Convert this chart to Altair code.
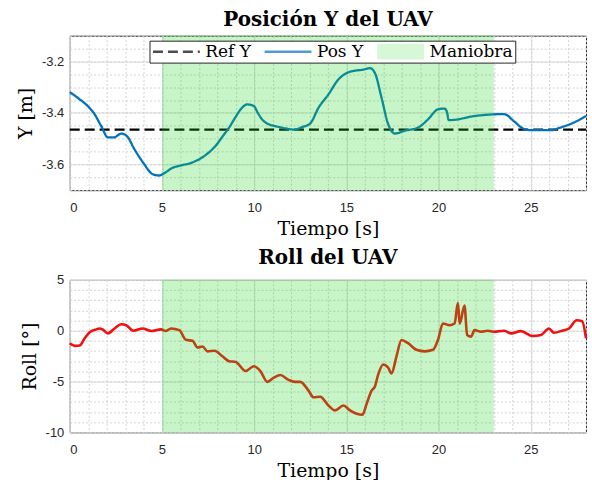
import altair as alt
import pandas as pd

# ---------------- data ----------------
pos_t = [0, 0.5, 1.0, 1.3, 1.7, 2.07, 2.4, 2.79, 3.1, 3.5, 4.0, 4.5, 4.86, 5.1, 5.58,
         6.1, 6.66, 7.2, 7.6, 7.92, 8.3, 8.64, 9.0, 9.27, 9.63, 9.98, 10.2, 10.43, 10.79,
         11.2, 11.7, 12.2, 12.6, 13.04, 13.49, 14.03, 14.57, 15.02, 15.47, 15.92, 16.28,
         16.55, 16.91, 17.27, 17.63, 18.17, 18.89, 19.43, 19.97, 20.33, 20.47, 20.55,
         21.05, 21.77, 22.49, 23.2, 23.57, 24.1, 24.65, 25.0, 26.09, 26.6, 27.35, 28.0]
pos_y = [-3.319, -3.345, -3.375, -3.400, -3.450, -3.495, -3.495, -3.480, -3.490, -3.540,
         -3.595, -3.638, -3.643, -3.635, -3.613, -3.603, -3.592, -3.572, -3.550, -3.527,
         -3.490, -3.457, -3.415, -3.386, -3.367, -3.373, -3.400, -3.425, -3.444, -3.452,
         -3.460, -3.465, -3.455, -3.441, -3.380, -3.328, -3.270, -3.245, -3.236, -3.232,
         -3.226, -3.245, -3.341, -3.444, -3.480, -3.469, -3.457, -3.425, -3.386, -3.383,
         -3.400, -3.428, -3.425, -3.414, -3.408, -3.405, -3.405, -3.433, -3.463, -3.467,
         -3.467, -3.457, -3.437, -3.412]
ref_t = [0, 28]
ref_y = [-3.465, -3.465]

roll_t = [0, 0.27, 0.54, 0.81, 1.08, 1.44, 1.62, 1.8, 2.07, 2.43, 2.79, 3.06, 3.45, 3.96,
          4.41, 4.95, 5.2, 5.49, 5.94, 6.3, 6.66, 6.93, 7.2, 7.47, 7.85, 8.28, 8.64, 9.0,
          9.54, 9.98, 10.34, 10.71, 11.07, 11.42, 11.87, 12.2, 12.5, 12.95, 13.22, 13.58,
          14.03, 14.39, 14.84, 15.2, 15.56, 15.87, 16.1, 16.37, 16.55, 16.73, 17.0, 17.27,
          17.45, 17.72, 17.99, 18.35, 18.8, 19.25, 19.7, 19.97, 20.24, 20.6, 20.87, 21.05,
          21.15, 21.41, 21.55, 21.77, 21.95, 22.3, 22.67, 23.0, 23.57, 23.93, 24.47, 25.1,
          25.56, 25.99, 26.26, 26.71, 27.08, 27.49, 27.79, 28.0]
roll_v = [-1.23, -1.49, -1.45, -0.75, -0.16, 0.13, 0.22, 0.10, -0.26, 0.22, 0.64, 0.54,
          0.00, 0.22, -0.03, 0.13, -0.03, 0.22, 0.06, -0.90, -1.00, -1.65, -1.55, -2.03,
          -1.97, -2.52, -3.00, -3.07, -3.97, -3.49, -3.97, -5.03, -4.62, -4.36, -4.84,
          -5.03, -5.03, -5.90, -6.55, -6.49, -7.36, -7.84, -7.36, -7.84, -8.17, -8.27,
          -7.20, -5.90, -5.49, -4.30, -3.33, -3.65, -4.20, -2.52, -0.91, -1.23, -1.88,
          -2.03, -1.88, -0.91, 0.71, 0.54, 0.71, 2.71, 0.70, 2.48, -0.42, -0.58, 0.06,
          -0.10, 0.00, -0.10, 0.00, -0.26, -0.04, -0.52, -0.42, 0.22, -0.20, 0.00, 0.22,
          1.03, 0.93, -0.75]

man_start = [5]
man_end = [23]
series = ["Ref Y", "Pos Y", "Maniobra"]

x_ticks = [0, 5, 10, 15, 20, 25]
x_minor = list(range(0, 29))
y1_ticks = [-3.6, -3.4, -3.2]
y1_minor = [round(-3.7 + 0.05 * i, 2) for i in range(13)]
y2_ticks = [-10, -5, 0, 5]
y2_minor = list(range(-10, 6))

# ---------------- frames ----------------
lines_df = pd.DataFrame({
    "t": ref_t + pos_t,
    "v": ref_y + pos_y,
    "serie": ["Ref Y"] * len(ref_t) + ["Pos Y"] * len(pos_t),
})
man_df = pd.DataFrame({"t0": man_start, "t1": man_end, "serie": ["Maniobra"]})
roll_df = pd.DataFrame({"t": roll_t, "v": roll_v})

W = 518
H1 = 155
H2 = 153
GREEN = "rgba(30,215,30,0.25)"
BLUE = "#0072BD"
RED = "#f01010"

xs = alt.Scale(domain=[0, 28], nice=False, zero=False)
ys1 = alt.Scale(domain=[-3.7, -3.1], nice=False, zero=False)
ys2 = alt.Scale(domain=[-10, 5], nice=False, zero=False)

lab = "'' + datum.value"
x_axis = alt.Axis(orient="bottom", values=x_ticks, title="Tiempo [s]", labelExpr=lab,
                  grid=True, domain=False, ticks=False, labelPadding=11, titlePadding=5,
                  titleFontWeight="normal", titleFont="DejaVu Serif", titleFontSize=19)
x_axis_minor = alt.Axis(orient="top", values=x_minor, grid=True, gridDash=[2, 2],
                        gridColor="#d2d2d2", labels=False, ticks=False, domain=False, title=None)


def y_axis(vals, title):
    return alt.Axis(orient="left", values=vals, title=title, labelExpr=lab, grid=True,
                    domain=False, ticks=False, labelPadding=6, titlePadding=6,
                    titleFontWeight="normal", titleFont="DejaVu Serif", titleFontSize=19)


def y_axis_minor(vals):
    return alt.Axis(orient="right", values=vals, grid=True, gridDash=[2, 2],
                    gridColor="#d2d2d2", labels=False, ticks=False, domain=False, title=None)


legend = alt.Legend(title=None, orient="none", legendX=80, legendY=5,
                    direction="horizontal", columns=3,
                    labelFont="DejaVu Serif", labelFontSize=17, labelColor="black",
                    symbolSize=2209, symbolStrokeWidth=2.5, clipHeight=18,
                    labelOffset=4, columnPadding=12, padding=2, symbolOffset=0,
                    strokeColor="#262626", fillColor="white", labelLimit=0)

stroke_scale = alt.Scale(domain=series, range=["#000000", BLUE, "rgba(0,0,0,0)"])
dash_scale = alt.Scale(domain=series, range=[[10, 5], [1, 0], [1, 0]])
fill_scale = alt.Scale(domain=series, range=["rgba(0,0,0,0)", "rgba(0,0,0,0)", GREEN])
shape_scale = alt.Scale(domain=series, range=["stroke", "stroke", "M-1,-0.34H1V0.34H-1Z"])

top_lines = alt.Chart(lines_df).mark_line(strokeWidth=2.3, interpolate="monotone").encode(
    x=alt.X("t:Q", scale=xs, axis=x_axis),
    y=alt.Y("v:Q", scale=ys1, axis=y_axis(y1_ticks, "Y [m]")),
    stroke=alt.Stroke("serie:N", scale=stroke_scale, legend=legend),
    strokeDash=alt.StrokeDash("serie:N", scale=dash_scale, legend=legend),
)
top_rect = alt.Chart(man_df).mark_rect().encode(
    x=alt.X("t0:Q", scale=xs, axis=x_axis_minor),
    x2="t1:Q",
    fill=alt.Fill("serie:N", scale=fill_scale, legend=legend),
)
top_pts = alt.Chart(lines_df).mark_point().encode(
    x=alt.X("t:Q", scale=xs, axis=None),
    y=alt.Y("v:Q", scale=ys1, axis=y_axis_minor(y1_minor)),
    shape=alt.Shape("serie:N", scale=shape_scale, legend=legend),
).transform_filter("false")

top = alt.layer(top_lines, top_rect, top_pts).properties(
    width=W, height=H1,
    title=alt.TitleParams("Posición Y del UAV", font="DejaVu Serif", fontSize=20,
                          fontWeight="bold", color="black", anchor="middle", offset=6),
)

bot_line = alt.Chart(roll_df).mark_line(strokeWidth=2.6, interpolate="monotone", color=RED).encode(
    x=alt.X("t:Q", scale=xs, axis=x_axis),
    y=alt.Y("v:Q", scale=ys2, axis=y_axis(y2_ticks, "Roll [°]")),
)
bot_rect = alt.Chart(man_df).mark_rect(fill=GREEN).encode(
    x=alt.X("t0:Q", scale=xs, axis=x_axis_minor),
    x2="t1:Q",
)
bot_pts = alt.Chart(roll_df).mark_point().encode(
    x=alt.X("t:Q", scale=xs, axis=None),
    y=alt.Y("v:Q", scale=ys2, axis=y_axis_minor(y2_minor)),
).transform_filter("false")

bottom = alt.layer(bot_line, bot_rect, bot_pts).properties(
    width=W, height=H2,
    title=alt.TitleParams("Roll del UAV", font="DejaVu Serif", fontSize=20,
                          fontWeight="bold", color="black", anchor="middle", offset=6),
)

chart = alt.vconcat(top, bottom, spacing=8).properties(
    padding={"left": 16, "top": 8, "right": 0, "bottom": 0},
    background="white",
).configure_view(
    stroke="#262626", strokeWidth=1,
).configure_axis(
    labelFont="Liberation Sans", labelFontSize=13, labelColor="#262626",
    titleFont="DejaVu Serif", titleFontSize=19, titleFontWeight="normal", titleColor="black",
    gridColor="#dcdcdc", gridWidth=1,
)

chart.save("out.html", embed_options={"renderer": "svg", "actions": False})
